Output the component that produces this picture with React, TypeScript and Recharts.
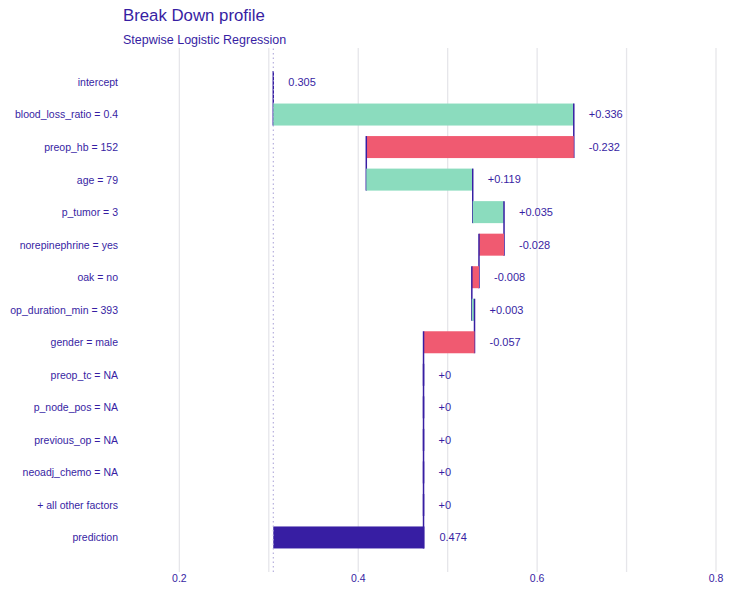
import React from 'react';
import { BarChart, Bar, XAxis, YAxis, CartesianGrid, ReferenceLine, LabelList } from 'recharts';

const FEATURES = [
    'intercept',
    'blood_loss_ratio = 0.4',
    'preop_hb = 152',
    'age = 79',
    'p_tumor = 3',
    'norepinephrine = yes',
    'oak = no',
    'op_duration_min = 393',
    'gender = male',
    'preop_tc = NA',
    'p_node_pos = NA',
    'previous_op = NA',
    'neoadj_chemo = NA',
    '+ all other factors',
    'prediction',
];

const INTERCEPT = 0.305;
// contributions of each variable (rows 2..14)
const CONTRIBUTIONS = [0.336, -0.232, 0.119, 0.035, -0.028, -0.008, 0.003, -0.057, 0, 0, 0, 0, 0];
const PREDICTION = 0.474;

const X_TICKS = [0.2, 0.3, 0.4, 0.5, 0.6, 0.7, 0.8];
const X_TICK_LABELS = ['0.2', '', '0.4', '', '0.6', '', '0.8'];

const PURPLE = '#371ea3';
const GREEN = '#8bdcbe';
const RED = '#f05a71';
const FONT = '"Liberation Sans", Arial, sans-serif';

const CHART_W = 733;
const CHART_H = 595;
const MARGIN = { top: 48, right: 0, bottom: 0, left: 0 };
const X_AXIS_H = 23;
const Y_PAD = 18;
const ROW_STEP = (CHART_H - MARGIN.top - MARGIN.bottom - X_AXIS_H - 2 * Y_PAD) / FEATURES.length;

const fmtDelta = (v: number) => (v > 0 ? `+${v}` : v < 0 ? `${v}` : '+0');

const buildRows = () => {
    const rows: any[] = [];
    rows.push({ name: FEATURES[0], range: [INTERCEPT, INTERCEPT], delta: 0, color: PURPLE, label: INTERCEPT.toFixed(3) });
    let cum = INTERCEPT;
    CONTRIBUTIONS.forEach((d, i) => {
        const next = cum + d;
        rows.push({
            name: FEATURES[i + 1],
            range: [Math.min(cum, next), Math.max(cum, next)],
            delta: d,
            color: d >= 0 ? GREEN : RED,
            label: fmtDelta(d),
        });
        cum = next;
    });
    rows.push({ name: FEATURES[FEATURES.length - 1], range: [INTERCEPT, PREDICTION], delta: 1, color: PURPLE, label: PREDICTION.toFixed(3) });
    return rows;
};

const ROWS = buildRows();

const WaterfallBar = (props: any) => {
    const { x, y, width, height, payload, index } = props;
    const endX = payload.delta >= 0 ? x + width : x;
    const last = index === ROWS.length - 1;
    return (
        <g>
            {width > 0 && <rect x={x} y={y} width={width} height={height} fill={payload.color} />}
            {!last && (
                <line x1={endX} x2={endX} y1={y} y2={y + ROW_STEP + height} stroke={PURPLE} strokeWidth={1.5} />
            )}
        </g>
    );
};

const ValueLabel = (props: any) => {
    const { x, y, width, height, value } = props;
    return (
        <text x={x + width + 15} y={y + height / 2} dy="0.35em" fill={PURPLE} fontSize={11} fontFamily={FONT}>
            {value}
        </text>
    );
};

const FeatureTick = (props: any) => {
    const { x, y, payload } = props;
    return (
        <text x={x} y={y} dy="0.35em" textAnchor="end" fill={PURPLE} fontSize={10.5} fontFamily={FONT}>
            {payload.value}
        </text>
    );
};

export default function App() {
    return (
        <div style={{ position: 'absolute', left: 0, top: 0, width: CHART_W, height: CHART_H, fontFamily: FONT }}>
            <div style={{ position: 'absolute', left: 123, top: 6, fontSize: 16.8, color: PURPLE, whiteSpace: 'nowrap' }}>
                Break Down profile
            </div>
            <div style={{ position: 'absolute', left: 123, top: 33, fontSize: 12.5, color: PURPLE, whiteSpace: 'nowrap' }}>
                Stepwise Logistic Regression
            </div>
            <BarChart width={CHART_W} height={CHART_H} data={ROWS} layout="vertical" margin={MARGIN}>
                <CartesianGrid horizontal={false} verticalValues={X_TICKS} stroke="#e6e6ea" strokeWidth={1.3} />
                <XAxis
                    type="number"
                    domain={[0.156, 0.819]}
                    ticks={X_TICKS}
                    tickFormatter={(v: number) => X_TICK_LABELS[X_TICKS.indexOf(v)] ?? ''}
                    axisLine={false}
                    tickLine={false}
                    tickSize={0}
                    tickMargin={3}
                    height={X_AXIS_H}
                    tick={{ fill: PURPLE, fontSize: 10.5, fontFamily: FONT }}
                    allowDataOverflow
                />
                <YAxis
                    type="category"
                    dataKey="name"
                    width={140}
                    axisLine={false}
                    tickLine={false}
                    tickSize={0}
                    tickMargin={22}
                    padding={{ top: Y_PAD, bottom: Y_PAD }}
                    interval={0}
                    tick={FeatureTick}
                />
                <ReferenceLine x={INTERCEPT} stroke="#a79fd6" strokeDasharray="1.5 3" strokeWidth={1} />
                <Bar dataKey="range" barSize={22} shape={WaterfallBar} isAnimationActive={false}>
                    <LabelList dataKey="label" content={ValueLabel} />
                </Bar>
            </BarChart>
        </div>
    );
}
